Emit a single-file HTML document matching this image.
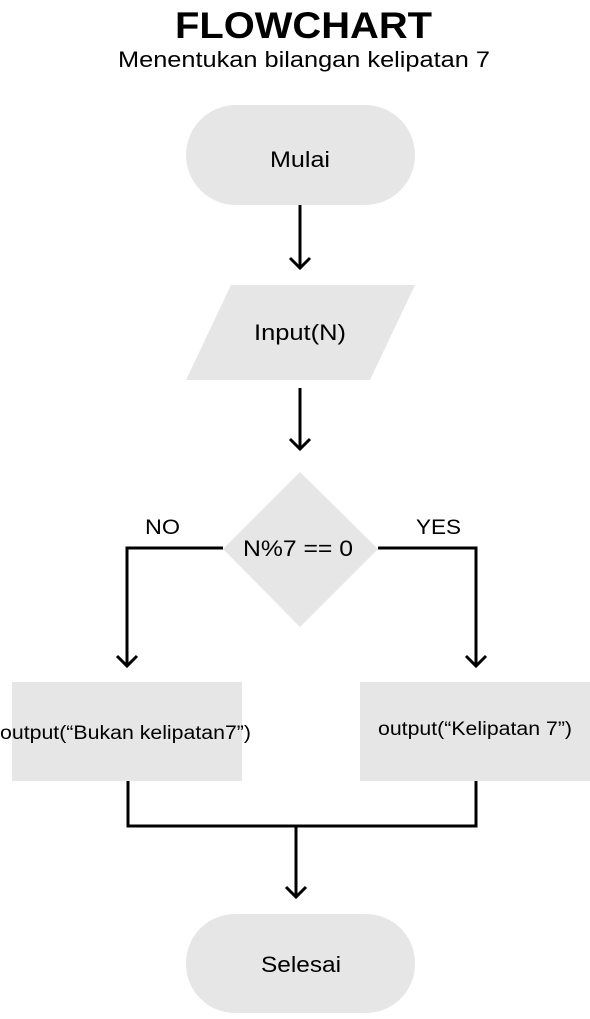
<!DOCTYPE html>
<html><head><meta charset="utf-8"><style>
body{margin:0;background:#fff;width:590px;height:1014px;overflow:hidden}
svg text{font-family:"Liberation Sans",sans-serif;fill:#000}
</style></head><body>
<svg width="590" height="1014" viewBox="0 0 590 1014">
<text x="175" y="38" font-size="37" font-weight="bold" textLength="257" lengthAdjust="spacingAndGlyphs">FLOWCHART</text>
<text x="118" y="67" font-size="22" textLength="372" lengthAdjust="spacingAndGlyphs">Menentukan bilangan kelipatan 7</text>
<rect x="186" y="105" width="229" height="100" rx="50" fill="#e6e6e6"/>
<text x="270" y="167" font-size="22" textLength="60" lengthAdjust="spacingAndGlyphs">Mulai</text>
<polygon points="231,285 415,285 370,380 186,380" fill="#e6e6e6"/>
<text x="254" y="340" font-size="22" textLength="92" lengthAdjust="spacingAndGlyphs">Input(N)</text>
<polygon points="300,472 378,549 300,627 223,549" fill="#e6e6e6"/>
<text x="243" y="556" font-size="22" textLength="110" lengthAdjust="spacingAndGlyphs">N%7 == 0</text>
<text x="145" y="534" font-size="21" textLength="35" lengthAdjust="spacingAndGlyphs">NO</text>
<text x="416" y="534" font-size="21" textLength="45" lengthAdjust="spacingAndGlyphs">YES</text>
<rect x="12" y="682" width="230" height="99" fill="#e6e6e6"/>
<text x="0" y="739" font-size="19" textLength="251" lengthAdjust="spacingAndGlyphs">output(“Bukan kelipatan7”)</text>
<rect x="360" y="682" width="230" height="99" fill="#e6e6e6"/>
<text x="378" y="735" font-size="19" textLength="194" lengthAdjust="spacingAndGlyphs">output(“Kelipatan 7”)</text>
<rect x="186" y="914" width="229" height="99" rx="49" fill="#e6e6e6"/>
<text x="261" y="972" font-size="22" textLength="80" lengthAdjust="spacingAndGlyphs">Selesai</text>
<g stroke="#000" stroke-width="3" fill="none">
<path d="M300 205V268M290 258L300 268L310 258"/>
<path d="M300 388V449M290 439L300 449L310 439"/>
<path d="M223 548H127V666M117 656L127 666L137 656"/>
<path d="M378 548H476V666M466 656L476 666L486 656"/>
<path d="M128 781V826H476V781"/>
<path d="M296 826V897M286 887L296 897L306 887"/>
</g>
</svg>
</body></html>
